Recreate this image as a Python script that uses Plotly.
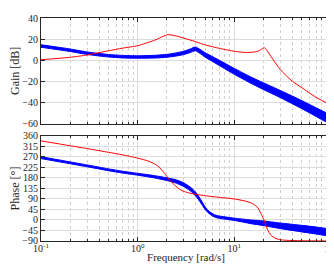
import plotly.graph_objects as go
from plotly.subplots import make_subplots

# ---- data ----
freq_red_gain = [0.1, 0.2, 0.3, 0.5, 0.7, 1.0, 1.5, 2.05, 2.5, 3.0, 4.0, 5.0, 7.0, 10.0, 13.0, 16.0, 18.0, 19.5, 20.3, 21.5, 23.0, 25.0, 30.0, 40.0, 50.0, 70.0, 100.0]
red_gain = [0.5, 2.8, 5.0, 9.0, 11.5, 13.8, 19.0, 24.2, 23.0, 21.0, 17.5, 14.5, 11.3, 8.5, 7.4, 7.8, 9.0, 11.0, 12.0, 10.0, 6.0, 1.0, -9.0, -20.0, -26.0, -35.0, -42.5]

freq_blue_gain = [0.1, 0.2, 0.3, 0.5, 0.7, 1.0, 1.5, 2.0, 2.5, 3.0, 3.5, 3.95, 4.4, 5.0, 6.0, 7.0, 10.0, 15.0, 20.0, 30.0, 50.0, 70.0, 100.0]
blue_gain = [13.5, 9.5, 6.7, 4.3, 3.4, 3.1, 3.4, 4.2, 5.5, 7.0, 9.0, 10.8, 8.5, 5.0, 1.0, -2.5, -10.5, -19.0, -24.5, -32.0, -42.0, -49.0, -56.5]
blue_gain_halfwidth = [1.2, 1.2, 1.2, 1.2, 1.2, 1.2, 1.3, 1.4, 1.5, 1.6, 1.7, 1.8, 1.9, 2.1, 2.3, 2.5, 2.8, 3.0, 3.2, 3.4, 3.8, 4.1, 4.5]

freq_red_phase = [0.1, 0.2, 0.3, 0.5, 0.7, 1.0, 1.3, 1.6, 1.9, 2.1, 2.4, 2.8, 3.3, 4.0, 5.0, 7.0, 10.0, 13.0, 15.5, 17.5, 19.0, 20.5, 22.0, 24.0, 27.0, 32.0, 50.0, 100.0]
red_phase = [339, 318, 306, 290, 279, 265, 252, 233, 200, 175, 150, 128, 117, 110, 104, 97, 90, 81, 70, 52, 25, -5, -40, -66, -80, -86, -89, -90]

freq_blue_phase = [0.1, 0.2, 0.3, 0.5, 0.7, 1.0, 1.5, 2.0, 2.5, 3.0, 3.5, 4.0, 4.5, 5.0, 5.5, 6.2, 7.0, 8.5, 10.0, 15.0, 20.0, 30.0, 50.0, 70.0, 100.0]
blue_phase = [267, 245, 232, 215, 205, 196, 185, 175, 165, 151, 133, 110, 80, 50, 32, 18, 12, 7, 3, -8, -14, -25, -37, -45, -55]
blue_phase_halfwidth = [4, 4, 4, 4, 4, 4, 5, 6, 7, 8, 8, 8, 7, 6, 5, 5, 5, 5, 5, 8, 10, 12, 14, 15, 16]

x_tickvals = [0.1, 1, 10, 100]
x_ticktext = ["10<sup>-1</sup>", "10<sup>0</sup>", "10<sup>1</sup>", "10<sup>2</sup>"]
gain_ticks = [40, 20, 0, -20, -40, -60]
phase_ticks = [360, 315, 270, 225, 180, 135, 90, 45, 0, -45, -90]
minor_vals = [m * 10 ** e for e in (-1, 0, 1) for m in range(2, 10)]

FONT = "Liberation Serif, Times New Roman, serif"
TXT = "#262626"
BLUE = "#0000FF"
RED = "#FF0000"

fig = make_subplots(rows=2, cols=1, shared_xaxes=True)

def add_band(freq, center, hw, row):
    hi = [c + h for c, h in zip(center, hw)]
    lo = [c - h for c, h in zip(center, hw)]
    fig.add_trace(go.Scatter(x=freq, y=lo, mode="lines", line=dict(color=BLUE, width=1, shape="spline", smoothing=0.6),
                             showlegend=False, hoverinfo="skip"), row=row, col=1)
    fig.add_trace(go.Scatter(x=freq, y=hi, mode="lines", line=dict(color=BLUE, width=1, shape="spline", smoothing=0.6),
                             fill="tonexty", fillcolor=BLUE, showlegend=False, hoverinfo="skip"), row=row, col=1)

add_band(freq_blue_gain, blue_gain, blue_gain_halfwidth, 1)
fig.add_trace(go.Scatter(x=freq_red_gain, y=red_gain, mode="lines",
                         line=dict(color=RED, width=1, shape="spline", smoothing=0.6), showlegend=False), row=1, col=1)
add_band(freq_blue_phase, blue_phase, blue_phase_halfwidth, 2)
fig.add_trace(go.Scatter(x=freq_red_phase, y=red_phase, mode="lines",
                         line=dict(color=RED, width=1, shape="spline", smoothing=0.6), showlegend=False), row=2, col=1)

xcommon = dict(type="log", range=[-1, 2], tickvals=x_tickvals, ticktext=x_ticktext, showline=True, linecolor=TXT, linewidth=1,
               mirror="ticks", ticks="inside", ticklen=4, tickcolor=TXT, showgrid=True, gridcolor="#dcdcdc",
               gridwidth=1, zeroline=False,
               minor=dict(tickvals=minor_vals, ticks="inside", ticklen=2, tickcolor=TXT,
                          showgrid=True, gridcolor="#d0d0d0", griddash="dot", gridwidth=1))
ycommon = dict(showline=True, linecolor=TXT, linewidth=1, mirror="ticks", ticks="inside", ticklen=4,
               tickcolor=TXT, showgrid=True, gridcolor="#dcdcdc", gridwidth=1, zeroline=False,
               tickfont=dict(family=FONT, size=10, color=TXT))

fig.update_xaxes(**xcommon, showticklabels=False, row=1, col=1)
fig.update_xaxes(**xcommon, tickfont=dict(family=FONT, size=10, color=TXT), ticklabelstandoff=-2,
                 title=dict(text="Frequency [rad/s]", font=dict(family=FONT, size=11, color=TXT), standoff=0),
                 row=2, col=1)
fig.update_yaxes(**ycommon, range=[-60, 40], tickvals=gain_ticks,
                 title=dict(text="Gain [dB]", font=dict(family=FONT, size=12, color=TXT), standoff=2),
                 row=1, col=1)
fig.update_yaxes(**ycommon, range=[-90, 360], tickvals=phase_ticks,
                 title=dict(text="Phase [°]", font=dict(family=FONT, size=12, color=TXT), standoff=2),
                 row=2, col=1)

fig.update_layout(
    width=334, height=266,
    margin=dict(l=33, r=9, t=4, b=33),
    paper_bgcolor="white", plot_bgcolor="white",
    showlegend=False,
)
fig.layout.yaxis.domain = [0.526, 1.0]
fig.layout.yaxis2.domain = [0.0, 0.471]

fig.write_html("out.html")
